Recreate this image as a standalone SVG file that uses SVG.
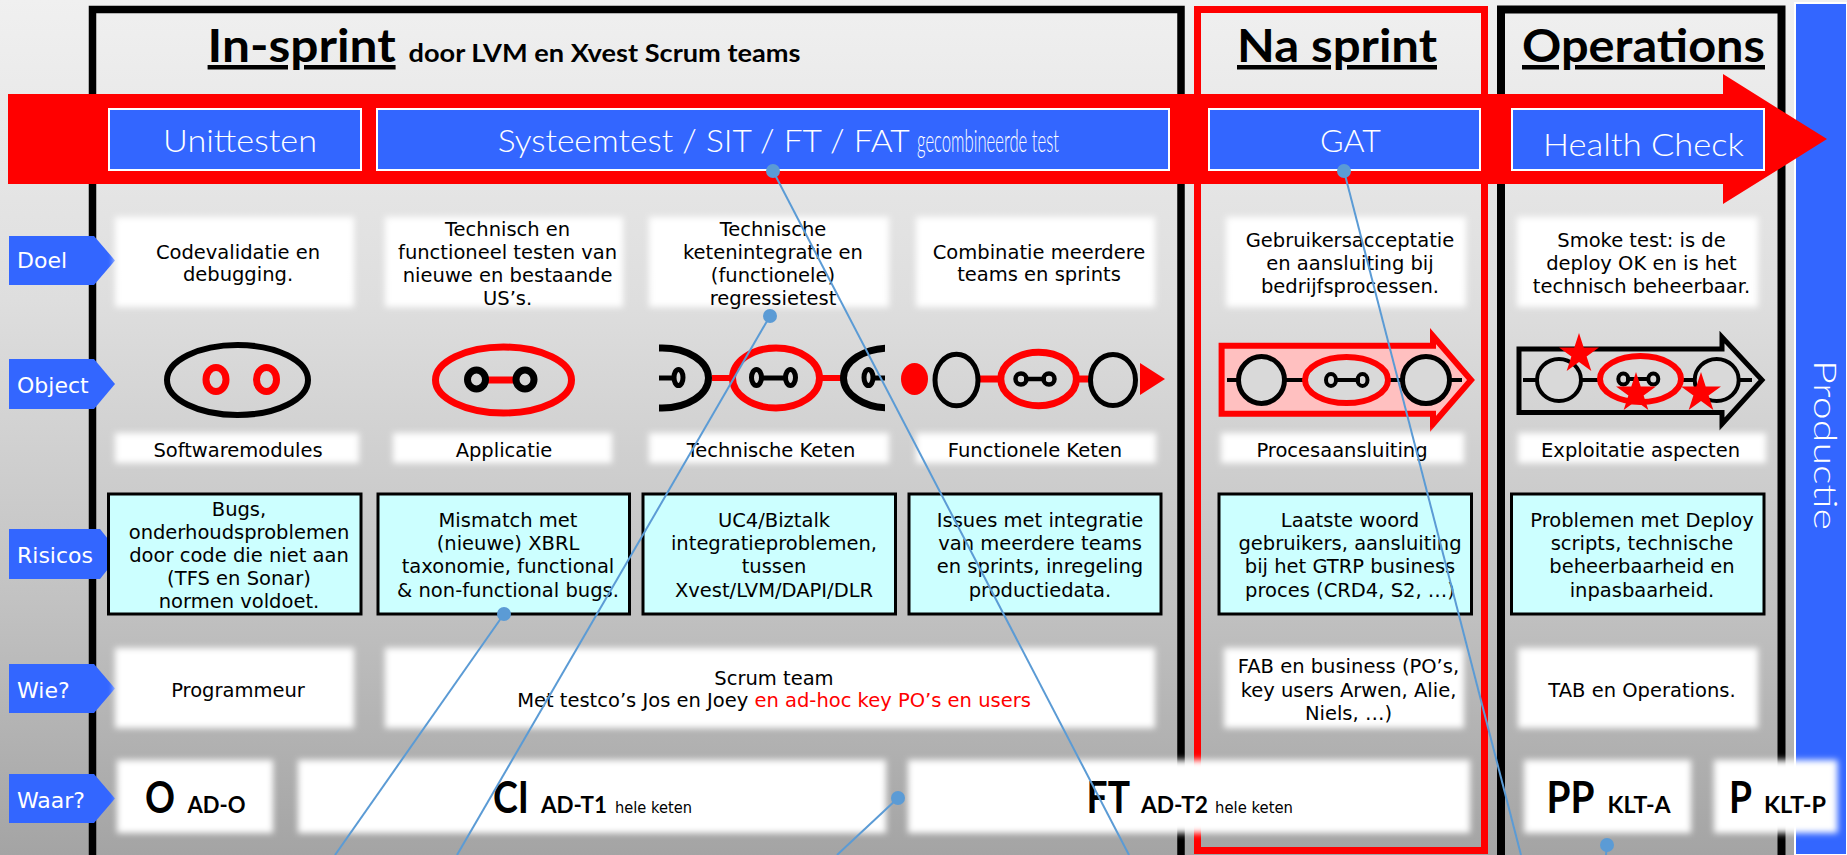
<svg xmlns="http://www.w3.org/2000/svg" xmlns:xlink="http://www.w3.org/1999/xlink" width="1847" height="855" viewBox="0 0 1847 855">
<defs>
<linearGradient id="bg" x1="0" y1="0" x2="0" y2="1">
<stop offset="0" stop-color="#f0f0f0"/>
<stop offset="0.35" stop-color="#dedede"/>
<stop offset="0.7" stop-color="#c2c2c2"/>
<stop offset="1" stop-color="#a4a4a4"/>
</linearGradient>
<filter id="soft" x="-10%" y="-20%" width="120%" height="140%"><feGaussianBlur stdDeviation="3"/></filter>
<clipPath id="clipChain"><rect x="659" y="335" width="226" height="85"/></clipPath>
<polygon id="star" points="0,-21 4.7,-6.47 19.97,-6.49 7.61,2.47 12.34,16.99 0,8 -12.34,16.99 -7.61,2.47 -19.97,-6.49 -4.7,-6.47" fill="#FF0000"/>
</defs>
<style>
.body{font-family:"DejaVu Sans",Verdana,sans-serif;font-size:19.5px;fill:#000;text-anchor:middle}
.lbl{font-family:"DejaVu Sans",Verdana,sans-serif;font-size:22px;fill:#fff}
.lblbox{fill:#3366FF}
.phasebox{fill:#3366FF;stroke:#fff;stroke-width:2}
.phase{font-family:Lato,"Open Sans",sans-serif;font-weight:300;fill:#fff;font-size:32px}
.title{font-family:Lato,"Open Sans",sans-serif;font-weight:700;fill:#000}
.ul{text-decoration:underline}
.soft{fill:#fff;filter:url(#soft)}
.risk{fill:#CCFFFF;stroke:#000;stroke-width:3}
.big{font-family:Lato,"Open Sans",sans-serif;font-weight:700;font-size:44px;fill:#000}
.mid{font-family:Lato,"Open Sans",sans-serif;font-weight:700;font-size:22px;fill:#000}
.small{font-family:"DejaVu Sans",Verdana,sans-serif;font-size:15px;fill:#000}
.blk{fill:none;stroke:#000}
.red{fill:none;stroke:#FF0000}
.conn{stroke:#5B9BD5;stroke-width:2;fill:none}
.dot{fill:#5B9BD5}
</style>

<rect id="background" x="0" y="0" width="1847" height="855" fill="url(#bg)"/>

<g id="productie">
<rect x="1795" y="3" width="52" height="852" fill="#3366FF" stroke="#fff" stroke-width="2"/>
<text transform="translate(1814,360) rotate(90)" class="phase" font-size="33" textLength="170" lengthAdjust="spacingAndGlyphs">Productie</text>
</g>

<g id="frame-insprint">
<rect x="92.5" y="9.5" width="1088.5" height="850" fill="none" stroke="#000" stroke-width="7.5"/>
<text class="title ul" x="207.6" y="62" font-size="45" textLength="188" lengthAdjust="spacingAndGlyphs">In-sprint</text>
<text class="title" x="408.5" y="62" font-size="25" textLength="392" lengthAdjust="spacingAndGlyphs">door LVM en Xvest Scrum teams</text>
</g>

<g id="frame-nasprint">
<rect x="1197.5" y="9.5" width="287" height="841" fill="none" stroke="#FF0000" stroke-width="7"/>
<text class="title ul" x="1237" y="62" font-size="45" textLength="200" lengthAdjust="spacingAndGlyphs">Na sprint</text>
</g>

<g id="frame-operations">
<rect x="1501" y="9.5" width="280.5" height="850" fill="none" stroke="#000" stroke-width="8"/>
<text class="title ul" x="1522" y="62" font-size="45" textLength="243" lengthAdjust="spacingAndGlyphs">Operations</text>
</g>

<g id="flow-arrow">
<polygon points="8,94 1723,94 1723,74 1827,139 1723,204 1723,184 8,184" fill="#FF0000"/>
</g>

<g id="phase-unittesten">
<rect class="phasebox" x="109" y="109" width="252" height="61"/>
<text class="phase" x="163" y="152" textLength="154" lengthAdjust="spacingAndGlyphs">Unittesten</text>
</g>
<g id="phase-systeemtest">
<rect class="phasebox" x="377" y="109" width="792" height="61"/>
<text class="phase" x="497.7" y="152" textLength="412" lengthAdjust="spacingAndGlyphs">Systeemtest / SIT / FT / FAT</text>
<text class="phase" x="917" y="152" font-size="15" textLength="142" lengthAdjust="spacingAndGlyphs">gecombineerde test</text>
</g>
<g id="phase-gat">
<rect class="phasebox" x="1209" y="109" width="271" height="61"/>
<text class="phase" x="1320" y="152" textLength="61" lengthAdjust="spacingAndGlyphs">GAT</text>
</g>
<g id="phase-healthcheck">
<rect class="phasebox" x="1512" y="109" width="252" height="61"/>
<text class="phase" x="1543" y="155.7" textLength="201" lengthAdjust="spacingAndGlyphs">Health Check</text>
</g>

<g id="label-doel">
<polygon class="lblbox" points="9,236 94,236 115,260.5 94,285 9,285"/>
<text class="lbl" x="17" y="268">Doel</text>
</g>
<g id="label-object">
<polygon class="lblbox" points="9,359 94,359 115,384 94,409 9,409"/>
<text class="lbl" x="17" y="393">Object</text>
</g>
<g id="label-risicos">
<polygon class="lblbox" points="9,529 100,529 120,554 100,579 9,579"/>
<text class="lbl" x="17" y="563">Risicos</text>
</g>
<g id="label-wie">
<polygon class="lblbox" points="9,664 94,664 115,688.5 94,713 9,713"/>
<text class="lbl" x="17" y="698">Wie?</text>
</g>
<g id="label-waar">
<polygon class="lblbox" points="9,774 94,774 115,798.5 94,823 9,823"/>
<text class="lbl" x="17" y="808">Waar?</text>
</g>

<g id="doel-1">
<rect class="soft" x="115" y="217" width="239" height="90"/>
<text class="body" x="238" y="259">Codevalidatie en</text>
<text class="body" x="238" y="281">debugging.</text>
</g>
<g id="doel-2">
<rect class="soft" x="385" y="217" width="238" height="90"/>
<text class="body" x="507.6" y="236">Technisch en</text>
<text class="body" x="507.6" y="259">functioneel testen van</text>
<text class="body" x="507.6" y="282">nieuwe en bestaande</text>
<text class="body" x="507.6" y="305">US’s.</text>
</g>
<g id="doel-3">
<rect class="soft" x="649" y="217" width="240" height="90"/>
<text class="body" x="773" y="236">Technische</text>
<text class="body" x="773" y="259">ketenintegratie en</text>
<text class="body" x="773" y="282">(functionele)</text>
<text class="body" x="773" y="305">regressietest</text>
</g>
<g id="doel-4">
<rect class="soft" x="916" y="217" width="239" height="90"/>
<text class="body" x="1039" y="259">Combinatie meerdere</text>
<text class="body" x="1039" y="281">teams en sprints</text>
</g>
<g id="doel-5">
<rect class="soft" x="1226" y="217" width="240" height="90"/>
<text class="body" x="1350" y="247">Gebruikersacceptatie</text>
<text class="body" x="1350" y="270">en aansluiting bij</text>
<text class="body" x="1350" y="293">bedrijfsprocessen.</text>
</g>
<g id="doel-6">
<rect class="soft" x="1517" y="217" width="241" height="90"/>
<text class="body" x="1641.5" y="247">Smoke test: is de</text>
<text class="body" x="1641.5" y="270">deploy OK en is het</text>
<text class="body" x="1641.5" y="293">technisch beheerbaar.</text>
</g>

<g id="object-1">
<ellipse class="blk" cx="237.5" cy="380" rx="70.5" ry="35" stroke-width="6"/>
<ellipse class="red" cx="216" cy="379.5" rx="10" ry="12" stroke-width="7"/>
<ellipse class="red" cx="266.5" cy="379.5" rx="10" ry="12" stroke-width="7"/>
<rect class="soft" x="115" y="433" width="244" height="30"/>
<text class="body" x="238" y="457">Softwaremodules</text>
</g>
<g id="object-2">
<ellipse class="red" cx="503.5" cy="380" rx="68" ry="33" stroke-width="7"/>
<line x1="486" y1="380" x2="516" y2="380" stroke="#FF0000" stroke-width="7"/>
<ellipse class="blk" cx="476.5" cy="379.5" rx="9" ry="9.5" stroke-width="7"/>
<ellipse class="blk" cx="525" cy="379.5" rx="9" ry="9.5" stroke-width="7"/>
<rect class="soft" x="393" y="433" width="219" height="30"/>
<text class="body" x="504" y="457">Applicatie</text>
</g>
<g id="object-3">
<g clip-path="url(#clipChain)">
<ellipse class="blk" cx="662" cy="378" rx="46.5" ry="30" stroke-width="7"/>
<line x1="655" y1="378" x2="674" y2="378" stroke="#000" stroke-width="5"/>
<ellipse class="blk" cx="678.5" cy="377.5" rx="4.5" ry="8" stroke-width="5"/>
<line x1="712" y1="378" x2="733" y2="378" stroke="#FF0000" stroke-width="6"/>
<line x1="819" y1="378" x2="842" y2="378" stroke="#FF0000" stroke-width="6"/>
<ellipse class="red" cx="776" cy="378" rx="43.5" ry="30" stroke-width="7"/>
<line x1="761" y1="378" x2="786" y2="378" stroke="#000" stroke-width="5"/>
<ellipse class="blk" cx="756.5" cy="377.5" rx="5" ry="8" stroke-width="5"/>
<ellipse class="blk" cx="790.5" cy="377.5" rx="5" ry="8" stroke-width="5"/>
<ellipse class="blk" cx="890" cy="378" rx="46.5" ry="30" stroke-width="7"/>
<line x1="873" y1="378" x2="890" y2="378" stroke="#000" stroke-width="5"/>
<ellipse class="blk" cx="868.5" cy="377.5" rx="4.5" ry="8" stroke-width="5"/>
</g>
<rect class="soft" x="649" y="433" width="240" height="30"/>
<text class="body" x="771" y="457">Technische Keten</text>
</g>
<g id="object-4">
<ellipse cx="914.5" cy="379" rx="13.5" ry="16" fill="#FF0000"/>
<line x1="976" y1="379" x2="1001" y2="379" stroke="#FF0000" stroke-width="7"/>
<line x1="1076" y1="379" x2="1093" y2="379" stroke="#FF0000" stroke-width="7"/>
<ellipse class="blk" cx="956.5" cy="380" rx="21.5" ry="25.8" stroke-width="5"/>
<ellipse class="red" cx="1038.6" cy="379" rx="37.8" ry="26.7" stroke-width="7"/>
<line x1="1024" y1="379" x2="1046" y2="379" stroke="#000" stroke-width="4.5"/>
<ellipse class="blk" cx="1021" cy="379" rx="5.5" ry="5.5" stroke-width="4.5"/>
<ellipse class="blk" cx="1049" cy="379" rx="5.5" ry="5.5" stroke-width="4.5"/>
<ellipse class="blk" cx="1113" cy="380" rx="22.5" ry="25.5" stroke-width="5"/>
<polygon points="1140,363 1165,379 1140,395" fill="#FF0000"/>
<rect class="soft" x="916" y="433" width="240" height="30"/>
<text class="body" x="1035" y="457">Functionele Keten</text>
</g>
<g id="object-5">
<path d="M1221.6,345.7 H1433 V336 L1471,380 L1433,424 V413.7 H1221.6 Z" fill="#FFC0C0" stroke="#FF0000" stroke-width="6"/>
<line x1="1227" y1="380" x2="1462" y2="380" stroke="#000" stroke-width="4"/>
<ellipse cx="1261.5" cy="380" rx="23" ry="23.5" fill="#d9d9d9" stroke="#000" stroke-width="5"/>
<ellipse cx="1346.5" cy="380" rx="41.5" ry="23" fill="#d9d9d9" stroke="#FF0000" stroke-width="6"/>
<line x1="1334" y1="380" x2="1360" y2="380" stroke="#000" stroke-width="4"/>
<ellipse class="blk" cx="1331" cy="380" rx="5" ry="6" stroke-width="4"/>
<ellipse class="blk" cx="1362.5" cy="380" rx="5" ry="6" stroke-width="4"/>
<ellipse cx="1426" cy="380" rx="23.5" ry="23.5" fill="#d9d9d9" stroke="#000" stroke-width="5"/>
<rect class="soft" x="1221" y="433" width="243" height="30"/>
<text class="body" x="1342" y="457">Procesaansluiting</text>
</g>
<g id="object-6">
<path d="M1519,349 H1722 V337 L1762,380 L1722,424 V412.5 H1519 Z" fill="none" stroke="#000" stroke-width="5"/>
<line x1="1523" y1="380" x2="1752" y2="380" stroke="#000" stroke-width="4"/>
<ellipse cx="1559" cy="380" rx="22" ry="21" fill="#d9d9d9" stroke="#000" stroke-width="4"/>
<ellipse cx="1640.5" cy="379" rx="40.5" ry="23" fill="#d9d9d9" stroke="#FF0000" stroke-width="6"/>
<line x1="1626" y1="379" x2="1650" y2="379" stroke="#000" stroke-width="4"/>
<ellipse class="blk" cx="1623.3" cy="379" rx="5" ry="5.5" stroke-width="4"/>
<ellipse class="blk" cx="1653.3" cy="379" rx="5" ry="5.5" stroke-width="4"/>
<ellipse cx="1716.7" cy="380" rx="22" ry="21" fill="#d9d9d9" stroke="#000" stroke-width="4"/>
<use xlink:href="#star" href="#star" x="1579" y="354"/>
<use xlink:href="#star" href="#star" x="1636" y="393"/>
<use xlink:href="#star" href="#star" x="1701" y="393"/>
<rect class="soft" x="1518" y="433" width="248" height="30"/>
<text class="body" x="1640.6" y="457">Exploitatie aspecten</text>
</g>

<g id="risico-1">
<rect class="risk" x="108.5" y="494" width="252.5" height="120"/>
<text class="body" x="239" y="516">Bugs,</text>
<text class="body" x="239" y="539">onderhoudsproblemen</text>
<text class="body" x="239" y="562">door code die niet aan</text>
<text class="body" x="239" y="585">(TFS en Sonar)</text>
<text class="body" x="239" y="608">normen voldoet.</text>
</g>
<g id="risico-2">
<rect class="risk" x="378" y="494" width="251.5" height="120"/>
<text class="body" x="508" y="527">Mismatch met</text>
<text class="body" x="508" y="550">(nieuwe) XBRL</text>
<text class="body" x="508" y="573">taxonomie, functional</text>
<text class="body" x="508" y="597">&amp; non-functional bugs.</text>
</g>
<g id="risico-3">
<rect class="risk" x="643" y="494" width="252.5" height="120"/>
<text class="body" x="774" y="527">UC4/Biztalk</text>
<text class="body" x="774" y="550">integratieproblemen,</text>
<text class="body" x="774" y="573">tussen</text>
<text class="body" x="774" y="597">Xvest/LVM/DAPI/DLR</text>
</g>
<g id="risico-4">
<rect class="risk" x="909" y="494" width="252" height="120"/>
<text class="body" x="1040" y="527">Issues met integratie</text>
<text class="body" x="1040" y="550">van meerdere teams</text>
<text class="body" x="1040" y="573">en sprints, inregeling</text>
<text class="body" x="1040" y="597">productiedata.</text>
</g>
<g id="risico-5">
<rect class="risk" x="1219" y="494" width="252.5" height="120"/>
<text class="body" x="1350" y="527">Laatste woord</text>
<text class="body" x="1350" y="550">gebruikers, aansluiting</text>
<text class="body" x="1350" y="573">bij het GTRP business</text>
<text class="body" x="1350" y="597">proces (CRD4, S2, …)</text>
</g>
<g id="risico-6">
<rect class="risk" x="1511.5" y="494" width="252.5" height="120"/>
<text class="body" x="1642" y="527">Problemen met Deploy</text>
<text class="body" x="1642" y="550">scripts, technische</text>
<text class="body" x="1642" y="573">beheerbaarheid en</text>
<text class="body" x="1642" y="597">inpasbaarheid.</text>
</g>

<g id="wie-1">
<rect class="soft" x="115" y="648" width="239" height="80"/>
<text class="body" x="238" y="697">Programmeur</text>
</g>
<g id="wie-2">
<rect class="soft" x="385" y="648" width="770" height="80"/>
<text class="body" x="774" y="685">Scrum team</text>
<text class="body" x="774" y="707">Met testco’s Jos en Joey <tspan fill="#FF0000">en ad-hoc key PO’s en users</tspan></text>
</g>
<g id="wie-3">
<rect class="soft" x="1224" y="648" width="240" height="80"/>
<text class="body" x="1348.5" y="673">FAB en business (PO’s,</text>
<text class="body" x="1348.5" y="697">key users Arwen, Alie,</text>
<text class="body" x="1348.5" y="720">Niels, …)</text>
</g>
<g id="wie-4">
<rect class="soft" x="1518" y="648" width="240" height="80"/>
<text class="body" x="1642" y="697">TAB en Operations.</text>
</g>

<g id="waar-1">
<rect class="soft" x="117" y="760" width="156" height="73"/>
<text class="big" x="145" y="813" textLength="30" lengthAdjust="spacingAndGlyphs">O</text>
<text class="mid" x="187.5" y="813" textLength="58" lengthAdjust="spacingAndGlyphs">AD-O</text>
</g>
<g id="waar-2">
<rect class="soft" x="298" y="760" width="588" height="73"/>
<text class="big" x="493" y="813" textLength="36" lengthAdjust="spacingAndGlyphs">CI</text>
<text class="mid" x="541" y="813" textLength="66" lengthAdjust="spacingAndGlyphs">AD-T1</text>
<text class="small" x="615" y="813" textLength="77" lengthAdjust="spacingAndGlyphs">hele keten</text>
</g>
<g id="waar-3">
<rect class="soft" x="908" y="760" width="562" height="73"/>
<text class="big" x="1086.6" y="813" textLength="43.4" lengthAdjust="spacingAndGlyphs">FT</text>
<text class="mid" x="1141" y="813" textLength="67" lengthAdjust="spacingAndGlyphs">AD-T2</text>
<text class="small" x="1215" y="813" textLength="78" lengthAdjust="spacingAndGlyphs">hele keten</text>
</g>
<g id="waar-4">
<rect class="soft" x="1524" y="760" width="167" height="73"/>
<text class="big" x="1546.6" y="813" textLength="48" lengthAdjust="spacingAndGlyphs">PP</text>
<text class="mid" x="1607.6" y="813" textLength="63" lengthAdjust="spacingAndGlyphs">KLT-A</text>
</g>
<g id="waar-5">
<rect class="soft" x="1714" y="760" width="123.5" height="73"/>
<text class="big" x="1729" y="813" textLength="23" lengthAdjust="spacingAndGlyphs">P</text>
<text class="mid" x="1764" y="813" textLength="62" lengthAdjust="spacingAndGlyphs">KLT-P</text>
</g>

<g id="connectors">
<line class="conn" x1="773" y1="171" x2="1129" y2="855"/>
<circle class="dot" cx="773" cy="171" r="7"/>
<line class="conn" x1="1344" y1="171" x2="1521" y2="855"/>
<circle class="dot" cx="1344" cy="171" r="7"/>
<line class="conn" x1="770" y1="316" x2="457" y2="855"/>
<circle class="dot" cx="770" cy="316" r="7"/>
<line class="conn" x1="504" y1="614" x2="335" y2="855"/>
<circle class="dot" cx="504" cy="614" r="7"/>
<line class="conn" x1="898" y1="798" x2="837" y2="855"/>
<circle class="dot" cx="898" cy="798" r="7"/>
<line class="conn" x1="1607" y1="845" x2="1606" y2="855"/>
<circle class="dot" cx="1607" cy="845" r="7"/>
</g>
</svg>
